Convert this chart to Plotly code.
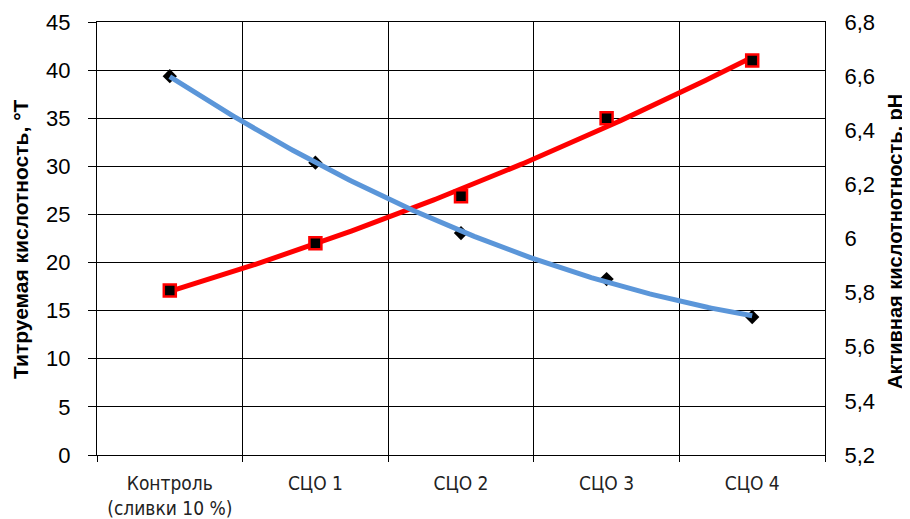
import numpy as np
import plotly.graph_objects as go

categories = ["Контроль<br>(сливки 10 %)", "СЦО 1", "СЦО 2", "СЦО 3", "СЦО 4"]
titr_acidity = [17.1, 22.0, 26.9, 35.0, 41.0]   # °Т, left axis
ph_values = [6.60, 6.28, 6.02, 5.85, 5.71]      # pH, right axis
ph_ticks = [5.2, 5.4, 5.6, 5.8, 6.0, 6.2, 6.4, 6.6, 6.8]
ph_ticktext = ["5,2", "5,4", "5,6", "5,8", "6", "6,2", "6,4", "6,6", "6,8"]

x = np.arange(len(categories))
xs = np.linspace(0, len(categories) - 1, 200)

# Excel-style polynomial (order 2) trendlines
red_fit = np.polyval(np.polyfit(x, titr_acidity, 2), xs)
blue_fit = np.polyval(np.polyfit(x, ph_values, 2), xs)

fig = go.Figure()

fig.add_trace(go.Scatter(x=x, y=ph_values, yaxis="y2", mode="markers",
                         marker=dict(symbol="diamond", size=11, color="black"),
                         showlegend=False))
fig.add_trace(go.Scatter(x=xs, y=blue_fit, yaxis="y2", mode="lines",
                         line=dict(color="#5B96D9", width=5), showlegend=False))
fig.add_trace(go.Scatter(x=xs, y=red_fit, mode="lines",
                         line=dict(color="#FF0000", width=5), showlegend=False))
fig.add_trace(go.Scatter(x=x, y=titr_acidity, mode="markers",
                         marker=dict(symbol="square", size=12, color="black",
                                     line=dict(color="#FF0000", width=2.5)),
                         showlegend=False))

font = "Liberation Sans, Arial, sans-serif"
narrow = "Liberation Sans Narrow, Arial Narrow, DejaVu Sans Condensed, sans-serif"

# page body has an 8px margin, so the figure is sized to fit inside the window
W, H = 902, 511
ML, MR, MT, MB = 89, 85, 14, 64
pw = W - ML - MR

fig.update_layout(
    width=W, height=H,
    margin=dict(l=ML, r=MR, t=MT, b=MB),
    paper_bgcolor="white", plot_bgcolor="white",
    font=dict(family=font, color="black"),
    xaxis=dict(
        range=[-0.5, len(categories) - 0.5], automargin=False,
        tickmode="array", tickvals=x, ticktext=categories,
        tickfont=dict(size=19, family=narrow, color="#222"), ticks="", showgrid=False,
        ticklabelstandoff=11,
        showline=True, linecolor="black", linewidth=1, mirror=True,
        zeroline=False,
        minor=dict(tickmode="linear", tick0=-0.5, dtick=1, ticks="outside",
                   ticklen=6, tickcolor="black", showgrid=True,
                   gridcolor="black", gridwidth=1),
    ),
    yaxis=dict(
        range=[0, 45], dtick=5, tickfont=dict(size=22), automargin=False,
        ticks="outside", ticklen=8, tickcolor="black", ticklabelstandoff=13,
        showgrid=True, gridcolor="black", gridwidth=1,
        showline=True, linecolor="black", linewidth=1, zeroline=False,
    ),
    yaxis2=dict(
        range=[5.2, 6.8], overlaying="y", side="right", automargin=False,
        tickmode="array", tickvals=ph_ticks, ticktext=ph_ticktext,
        tickfont=dict(size=22),
        showgrid=False, showline=True, linecolor="black", zeroline=False,
        ticks="", ticklabelstandoff=14,
    ),
)

# axis titles placed as rotated annotations (centres in page pixels)
fig.add_annotation(text="<b>Титруемая кислотность, °Т</b>", textangle=-90,
                   xref="paper", yref="paper", xanchor="center", yanchor="middle",
                   x=(21 - 8 - ML) / pw, y=(455 - 239) / 433,
                   showarrow=False, font=dict(size=21, family=font))
fig.add_annotation(text="<b>Активная кислотнотность, pH</b>", textangle=-90,
                   xref="paper", yref="paper", xanchor="center", yanchor="middle",
                   x=(895 - 8 - ML) / pw, y=(455 - 242) / 433,
                   showarrow=False, font=dict(size=20, family=font))

fig.write_html("out.html")
